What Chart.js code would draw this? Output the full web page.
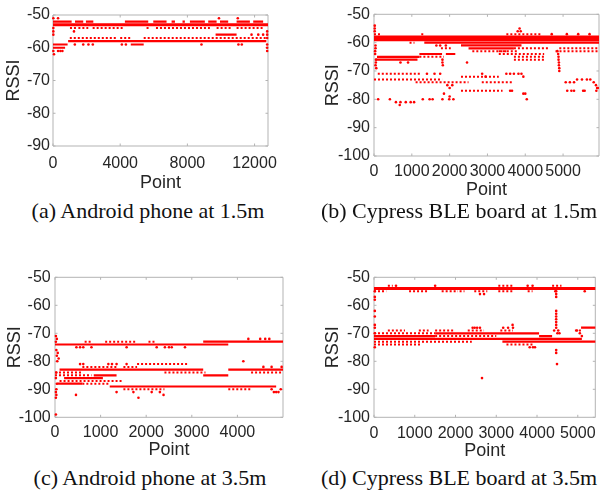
<!DOCTYPE html>
<html>
<head>
<meta charset="utf-8">
<script src="https://cdn.jsdelivr.net/npm/chart.js@4.4.0/dist/chart.umd.min.js"></script>
<style>
body { margin: 0; background: #fff; }
#page { position: relative; width: 603px; height: 494px; overflow: hidden; }
#page canvas { position: absolute; }
.caption { position: absolute; font-family: "Liberation Serif", "Times New Roman", serif; font-size: 22px; color: #111; white-space: nowrap; transform: translate(-50%, -50%); }
</style>
</head>
<body>
<div id="page">
  <canvas id="chartA" width="300" height="196" style="left:0;top:0"></canvas>
  <canvas id="chartB" width="303" height="202" style="left:300px;top:0"></canvas>
  <canvas id="chartC" width="300" height="217" style="left:0;top:245px"></canvas>
  <canvas id="chartD" width="303" height="218" style="left:300px;top:245px"></canvas>
  <div class="caption" style="left:148px;top:211px">(a) Android phone at 1.5m</div>
  <div class="caption" style="left:459px;top:211px">(b) Cypress BLE board at 1.5m</div>
  <div class="caption" style="left:150px;top:478px">(c) Android phone at 3.5m</div>
  <div class="caption" style="left:459px;top:478px">(d) Cypress BLE board at 3.5m</div>
</div>
<script>
// tick labels
var ticksXA = [0, 4000, 8000, 12000];
var ticksYA = [-90, -80, -70, -60, -50];
var ticksXB = [0, 1000, 2000, 3000, 4000, 5000];
var ticksXC = [0, 1000, 2000, 3000, 4000];
var ticksXD = [0, 1000, 2000, 3000, 4000, 5000];
var ticksY100 = [-100, -90, -80, -70, -60, -50];

// each band / line / row: [rssi, from point, to point]; dots: [point, rssi]
// (a) Android phone at 1.5m
var bandsA = [[-53, 0, 12800]];
var linesA = [[-52, 0, 1110], [-52, 1310, 1800], [-52, 1960, 2400], [-52, 4280, 5670], [-52, 5970, 6760],
  [-52, 7060, 7260], [-52, 7710, 7850], [-52, 8150, 9040], [-52, 9240, 9740], [-52, 9940, 10430],
  [-52, 10930, 11720], [-52, 11920, 12510], [-56, 9680, 10930], [-58, 900, 12700],
  [-59, 0, 870], [-59, 4630, 5400], [-60, 0, 720]];
var rowsA = [[-54, 1010, 1410], [-54, 1510, 2100], [-54, 2360, 4220], [-54, 5570, 5770], [-54, 6130, 9340],
  [-54, 9740, 10630], [-54, 10930, 12510], [-57, 1000, 3800], [-57, 4000, 4600], [-57, 5400, 12700]];
var dotsA = [[20, -51], [300, -51], [9880, -51], [11000, -51], [20, -54], [20, -55], [20, -56], [1250, -55],
  [11820, -56], [12220, -56], [12510, -56], [1300, -59], [1800, -59], [2110, -59], [2370, -59], [4100, -59],
  [4340, -59], [8840, -59], [11040, -59], [11240, -59], [300, -61], [440, -61], [560, -61], [60, -62],
  [20, -61], [12750, -55], [12750, -56], [12750, -57], [12750, -59], [12750, -60], [12750, -61]];

// (b) Cypress BLE board at 1.5m
var bandsB = [[-58, 0, 5950], [-59, 0, 5950]];
var linesB = [[-60, 1330, 5950], [-61, 2300, 3900], [-62, 2500, 3700], [-64, 1200, 1800], [-64, 1900, 2150],
  [-65, 80, 1200], [-66, 50, 1150]];
var rowsB = [[-57, 0, 200], [-57, 1250, 1350], [-57, 3500, 4400], [-60, 940, 1070], [-62, 1770, 2030],
  [-62, 3700, 4600], [-62, 4900, 5950], [-63, 2600, 3500], [-63, 3300, 3800], [-63, 4800, 5950],
  [-64, 3300, 4500], [-65, 1200, 1850], [-65, 3700, 4500], [-66, 3700, 4500], [-71, 100, 1240],
  [-72, 2300, 3300], [-73, 0, 1800], [-74, 1100, 2500], [-74, 2850, 3650], [-77, 2300, 3400]];
var dotsB = [[20, -54], [20, -55], [20, -56], [40, -61], [40, -62], [30, -63], [30, -64], [50, -66], [50, -67],
  [40, -68], [60, -69], [3800, -56], [3850, -55], [3880, -56], [4700, -57], [5100, -57], [5400, -57], [5700, -57],
  [700, -67], [900, -67], [2460, -67], [1810, -66], [1810, -67], [1820, -68], [1650, -61], [1750, -61], [1900, -61],
  [4850, -63], [4870, -64], [4880, -65], [4880, -66], [4890, -67], [4890, -68], [4900, -69], [4900, -70],
  [1400, -71], [1600, -71], [1750, -71], [2860, -71], [2950, -72], [3500, -71], [3600, -71], [3700, -71],
  [3820, -71], [3900, -71], [3950, -72], [1940, -75], [2000, -76], [2070, -75], [3600, -77], [3650, -77],
  [3950, -78], [4000, -78], [4040, -80], [1850, -78], [2000, -79], [2100, -80], [1810, -80],
  [110, -80], [420, -80], [1290, -80], [1470, -80], [1550, -80], [1990, -80],
  [580, -81], [700, -81], [840, -81], [970, -81], [1060, -81], [680, -82],
  [5070, -74], [5180, -74], [5290, -74], [5370, -73], [5500, -73], [5630, -73], [5720, -73], [5810, -74],
  [5870, -75], [5900, -76], [5110, -77], [5220, -77], [5290, -77], [5530, -77], [5570, -77], [5880, -77], [5920, -76]];

// (c) Android phone at 3.5m
var bandsC = [];
var linesC = [[-74, 0, 3800], [-73, 3250, 5000], [-83, 100, 3250], [-83, 3800, 5000], [-85, 850, 1350],
  [-85, 3250, 3800], [-86, 200, 1050], [-88, 50, 600], [-89, 1200, 4850]];
var rowsC = [[-73, 650, 800], [-73, 1100, 1800], [-73, 2050, 2200], [-81, 1800, 2900], [-82, 600, 1350],
  [-82, 1500, 1800], [-84, 0, 600], [-84, 2400, 3300], [-84, 4300, 5000], [-85, 0, 800], [-87, 100, 1500],
  [-88, 600, 1200], [-90, 1500, 2400], [-90, 3800, 4300]];
var dotsC = [[20, -71], [40, -72], [20, -73], [30, -76], [60, -77], [40, -78], [80, -79], [50, -80], [30, -84],
  [20, -86], [40, -88], [30, -90], [20, -91], [30, -92], [20, -93], [20, -99],
  [470, -75], [550, -75], [620, -75], [800, -75], [1570, -75], [2230, -75], [2410, -75], [2500, -75], [2560, -75],
  [2850, -75], [4240, -72], [4500, -72], [4610, -72], [4700, -72], [4130, -80],
  [550, -81], [620, -81], [1170, -81], [1250, -81], [1350, -81], [1570, -81], [4570, -82], [4750, -82], [4970, -82],
  [460, -92], [1350, -91], [1720, -91], [2120, -91], [2300, -91], [2380, -92], [1830, -93],
  [4750, -90], [4800, -91], [4850, -91], [4900, -91], [4950, -90]];

// (d) Cypress BLE board at 3.5m
var bandsD = [[-54, 0, 5430]];
var linesD = [[-68, 5080, 5430], [-70, 1500, 4050], [-71, 0, 1500], [-71, 4050, 4370], [-72, 0, 5100],
  [-73, 3150, 5430]];
var rowsD = [[-53, 340, 460], [-53, 3050, 3400], [-53, 4370, 4600], [-55, 0, 300], [-55, 860, 1340],
  [-55, 1660, 2060], [-55, 2100, 2220], [-55, 2460, 2780], [-55, 3050, 3410], [-55, 3770, 3890],
  [-69, 340, 760], [-69, 1100, 1340], [-69, 1500, 1980], [-69, 2300, 2700], [-69, 3100, 3410], [-69, 4930, 5090],
  [-70, 0, 1500], [-71, 1500, 3000], [-73, 0, 2400], [-74, 0, 1150], [-74, 3250, 3900]];
var dotsD = [[20, -55], [20, -57], [20, -58], [20, -62], [20, -64], [20, -67], [20, -68], [20, -70], [20, -75],
  [540, -53], [1500, -53], [3770, -53], [3890, -53], [4450, -55], [5170, -55], [2600, -56], [2700, -56],
  [4470, -55], [4470, -56], [4470, -57], [4470, -62], [4470, -63], [4470, -64], [4470, -65], [4470, -66],
  [4470, -67], [4470, -76], [4470, -77], [4490, -81],
  [2420, -68], [2470, -68], [2530, -68], [2600, -68], [3170, -68], [3290, -68], [3410, -68], [3400, -67],
  [4420, -69], [4470, -68], [4520, -69], [4550, -70], [4500, -70], [4980, -69], [5050, -70], [5100, -71],
  [3820, -75], [3900, -75], [3950, -75], [2650, -86]];

var RED = 'rgb(255,0,0)';
var AXIS = '#b3b3b3';
var TEXT = '#262626';
var TICK_FONT = { size: 16, lineHeight: 1.2 };
var TITLE_FONT = { size: 18, lineHeight: 1.2 };
Chart.defaults.font.family = "'Liberation Sans', Arial, sans-serif";

function segData(list) {
    var out = [];
    list.forEach(function(s) {
        out.push({ x: s[1], y: s[0] }, { x: s[2], y: s[0] }, { x: s[2], y: null });
    });
    return out;
}

// MATLAB style box with inward ticks
var boxPlugin = {
    id: 'box',
    beforeDatasetsDraw: function(chart) {
        var ctx = chart.ctx, a = chart.chartArea;
        var sx = chart.scales.x, sy = chart.scales.y;
        var tl = 2.5;
        ctx.save();
        ctx.strokeStyle = AXIS;
        ctx.lineWidth = 1;
        ctx.beginPath();
        ctx.rect(a.left, a.top, a.right - a.left, a.bottom - a.top);
        sx.ticks.forEach(function(t) {
            var p = sx.getPixelForValue(t.value);
            ctx.moveTo(p, a.bottom); ctx.lineTo(p, a.bottom - tl);
            ctx.moveTo(p, a.top); ctx.lineTo(p, a.top + tl);
        });
        sy.ticks.forEach(function(t) {
            var p = sy.getPixelForValue(t.value);
            ctx.moveTo(a.left, p); ctx.lineTo(a.left + tl, p);
            ctx.moveTo(a.right, p); ctx.lineTo(a.right - tl, p);
        });
        ctx.stroke();
        ctx.restore();
    }
};

function plain(v) { return String(v); }

function makeChart(id, geo, xMax, yMin, xTicks, yTicks, bands, lines, rows, dots) {
    var canvas = document.getElementById(id);
    var W = canvas.width, H = canvas.height;
    var tickHalf = TICK_FONT.size * TICK_FONT.lineHeight / 2;
    var titleHalf = TITLE_FONT.size * TITLE_FONT.lineHeight / 2;
    var datasets = [{
        data: segData(bands), showLine: true, borderColor: RED, borderWidth: 3, pointRadius: 0, clip: 4
    }, {
        data: segData(lines), showLine: true, borderColor: RED, borderWidth: 2.2, pointRadius: 0, clip: 4
    }, {
        data: segData(rows), showLine: true, borderColor: RED, borderWidth: 2, borderDash: [2, 2], pointRadius: 0, clip: 4
    }, {
        data: dots.map(function(d) { return { x: d[0], y: d[1] }; }),
        pointRadius: 1.3, pointBackgroundColor: RED, pointBorderWidth: 0, clip: 4
    }];
    return new Chart(canvas, {
        type: 'scatter',
        data: { datasets: datasets },
        options: {
            responsive: false,
            animation: false,
            events: [],
            layout: { padding: { left: 0, top: geo.t, right: W - geo.r, bottom: 0 } },
            plugins: { legend: { display: false }, tooltip: { enabled: false } },
            scales: {
                x: {
                    type: 'linear', min: 0, max: xMax,
                    grid: { display: false, drawTicks: false },
                    border: { display: false },
                    ticks: { padding: geo.xTick - geo.b - tickHalf, color: TEXT, maxRotation: 0, font: TICK_FONT, callback: plain },
                    afterBuildTicks: function(s) { s.ticks = xTicks.map(function(v) { return { value: v }; }); },
                    afterFit: function(s) { s.height = H - geo.b; },
                    title: { display: true, text: 'Point', color: TEXT, font: TITLE_FONT,
                        padding: { top: 0, bottom: H - geo.xTitle - titleHalf } }
                },
                y: {
                    type: 'linear', min: yMin, max: -50,
                    grid: { display: false, drawTicks: false },
                    border: { display: false },
                    ticks: { padding: geo.l - geo.yTick, color: TEXT, font: TICK_FONT, callback: plain },
                    afterBuildTicks: function(s) { s.ticks = yTicks.map(function(v) { return { value: v }; }); },
                    afterFit: function(s) { s.width = geo.l; },
                    title: { display: true, text: 'RSSI', color: TEXT, font: TITLE_FONT,
                        padding: { top: geo.yTitle - titleHalf, bottom: 0 } }
                }
            }
        },
        plugins: [boxPlugin]
    });
}

makeChart('chartA', { l: 53, t: 15, r: 268, b: 146, xTick: 164, xTitle: 183, yTick: 50, yTitle: 14.3 },
    12800, -90, ticksXA, ticksYA, bandsA, linesA, rowsA, dotsA);
makeChart('chartB', { l: 74, t: 14.3, r: 301, b: 156, xTick: 171.7, xTitle: 190, yTick: 70, yTitle: 33.3 },
    5950, -100, ticksXB, ticksY100, bandsB, linesB, rowsB, dotsB);
makeChart('chartC', { l: 55, t: 32.3, r: 283, b: 172.3, xTick: 188, xTitle: 205, yTick: 50.7, yTitle: 15 },
    5000, -100, ticksXC, ticksY100, bandsC, linesC, rowsC, dotsC);
makeChart('chartD', { l: 74, t: 32.3, r: 301, b: 172.3, xTick: 189, xTitle: 206, yTick: 70, yTitle: 33 },
    5430, -100, ticksXD, ticksY100, bandsD, linesD, rowsD, dotsD);
</script>
</body>
</html>
